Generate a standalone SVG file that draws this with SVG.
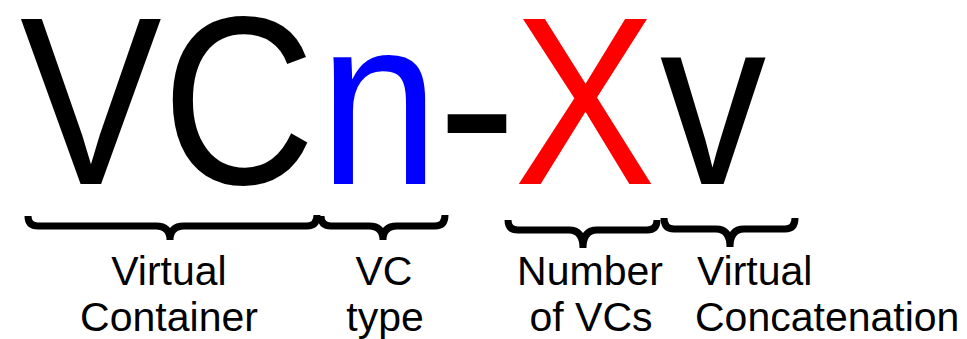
<svg xmlns="http://www.w3.org/2000/svg" width="967" height="339" viewBox="0 0 967 339">
<style>
.big{font-family:"Liberation Sans",Arial,sans-serif;font-size:240px;}
.lbl{font-family:"Liberation Sans",Arial,sans-serif;font-size:41px;fill:#000;}
.brace{fill:none;stroke:#000;stroke-width:7;stroke-linecap:butt;stroke-linejoin:round;}
</style>
<rect width="967" height="339" fill="#fff"/>
<g id="title">
<text class="big" fill="#000" transform="translate(20,184) scale(0.885,1)">V</text>
<text class="big" fill="#000" transform="translate(162,184) scale(0.885,1)">C</text>
<text class="big" fill="#0000FF" transform="translate(319,184) scale(0.9,1)">n</text>
<text class="big" fill="#000" transform="translate(437,187)">-</text>
<text class="big" fill="#FF0000" transform="translate(514,184) scale(0.885,1)">X</text>
<text class="big" fill="#000" transform="translate(660,184) scale(0.885,1)">v</text>
</g>
<g id="connectors">
<path class="brace" d="M28,216 Q28,226 38,226 H156 Q170,226 170,240 M317,215 Q317,226 307,226 H184 Q170,226 170,240"/>
<path class="brace" d="M321,216 Q321,226 331,226 H369 Q383,226 383,240 M445,215 Q445,226 435,226 H397 Q383,226 383,240"/>
<path class="brace" d="M508,220 Q508,230 518,230 H569 Q583,230 583,248 M657,220 Q657,230 647,230 H597 Q583,230 583,248"/>
<path class="brace" d="M664,218 Q664,229 674,229 H716 Q730,229 730,247 M795,218 Q795,229 785,229 H744 Q730,229 730,247"/>
</g>
<g id="label-virtual-container">
<text class="lbl" text-anchor="middle" x="169" y="285">Virtual</text>
<text class="lbl" text-anchor="middle" x="169" y="331">Container</text>
</g>
<g id="label-vc-type">
<text class="lbl" text-anchor="middle" x="384" y="285">VC</text>
<text class="lbl" text-anchor="middle" x="385" y="331">type</text>
</g>
<g id="label-number-of-vcs">
<text class="lbl" text-anchor="middle" x="590" y="285">Number</text>
<text class="lbl" text-anchor="middle" x="591" y="331">of VCs</text>
</g>
<g id="label-virtual-concatenation">
<text class="lbl" x="697" y="285">Virtual</text>
<text class="lbl" x="695" y="331">Concatenation</text>
</g>
</svg>
